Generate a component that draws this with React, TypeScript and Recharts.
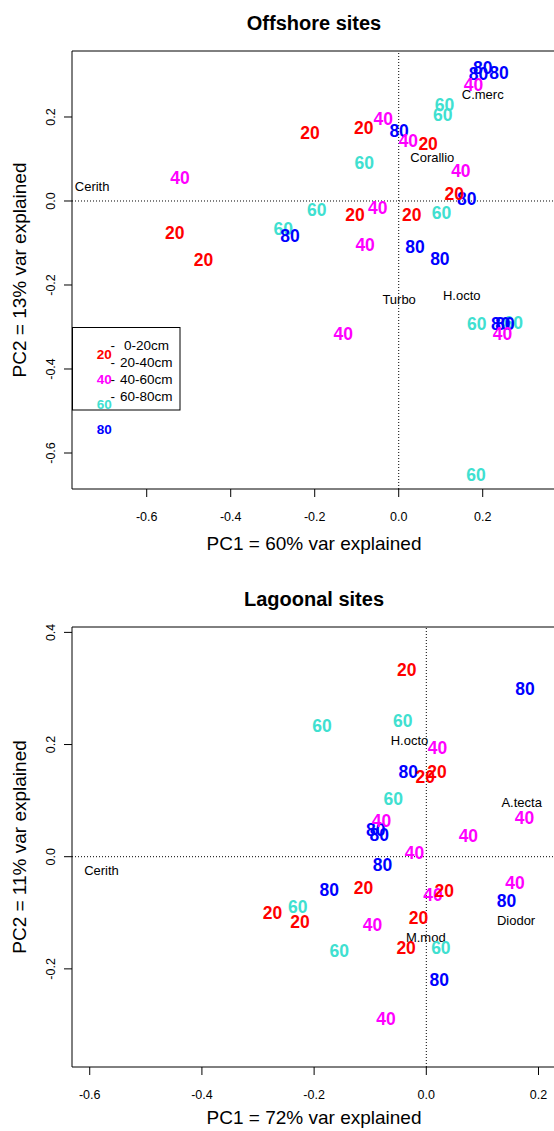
import { ScatterChart, Scatter, XAxis, YAxis, ReferenceLine, ReferenceArea } from 'recharts'

const FONT = '"Liberation Sans", Arial, Helvetica, sans-serif'

type Pt = [number, number]

// Offshore sites (PC1, PC2) by depth
const offshore20: Pt[] = [[-0.211, 0.162], [-0.083, 0.175], [0.070, 0.137], [0.132, 0.018], [-0.104, -0.032], [0.031, -0.033], [-0.533, -0.075], [-0.465, -0.140]]
const offshore40: Pt[] = [[-0.521, 0.055], [0.178, 0.276], [-0.037, 0.195], [0.023, 0.143], [0.148, 0.071], [-0.050, -0.016], [-0.080, -0.105], [-0.132, -0.315], [0.247, -0.317]]
const offshore60: Pt[] = [[0.109, 0.230], [0.105, 0.206], [-0.082, 0.092], [-0.195, -0.020], [-0.275, -0.067], [0.102, -0.027], [0.186, -0.293], [0.273, -0.290], [0.184, -0.652]]
const offshore80: Pt[] = [[0.200, 0.318], [0.190, 0.302], [0.239, 0.306], [0.001, 0.167], [0.162, 0.006], [-0.259, -0.083], [0.039, -0.109], [0.098, -0.138], [0.243, -0.293], [0.253, -0.293]]
const offshoreSpecies = ['Cerith', 'C.merc', 'Corallio', 'Turbo', 'H.octo']
const offshoreSpeciesPos: Pt[] = [[-0.730, 0.034], [0.200, 0.254], [0.080, 0.103], [0.001, -0.234], [0.150, -0.225]]

// Lagoonal sites
const lagoon20: Pt[] = [[-0.035, 0.333], [-0.002, 0.143], [0.019, 0.151], [-0.112, -0.056], [0.032, -0.061], [-0.014, -0.108], [-0.036, -0.162], [-0.274, -0.099], [-0.225, -0.116]]
const lagoon40: Pt[] = [[0.020, 0.194], [0.175, 0.070], [-0.080, 0.064], [0.075, 0.037], [-0.021, 0.008], [0.012, -0.067], [0.158, -0.046], [-0.096, -0.122], [-0.072, -0.289]]
const lagoon60: Pt[] = [[-0.186, 0.233], [-0.042, 0.243], [-0.059, 0.104], [0.026, -0.162], [-0.155, -0.168], [-0.229, -0.089]]
const lagoon80: Pt[] = [[0.176, 0.299], [-0.032, 0.152], [-0.090, 0.049], [-0.084, 0.039], [-0.078, -0.015], [-0.173, -0.058], [0.143, -0.079], [0.023, -0.219]]
const lagoonSpecies = ['Cerith', 'H.octo', 'A.tecta', 'Diodor', 'M.mod']
const lagoonSpeciesPos: Pt[] = [[-0.579, -0.025], [-0.030, 0.207], [0.170, 0.096], [0.160, -0.113], [-0.001, -0.144]]

const depthLabels = ['20', '40', '60', '80']
const depthColors = ['#FF0000', '#FF00FF', '#40E0D0', '#0000FF']
const legendLabels = ['0-20cm', '20-40cm', '40-60cm', '60-80cm']

const xTicks = [-0.6, -0.4, -0.2, 0, 0.2]
const offshoreYTicks = [-0.6, -0.4, -0.2, 0, 0.2]
const lagoonYTicks = [-0.2, 0, 0.2, 0.4]

const rows = (pts: Pt[], labels: string[] | string) =>
  pts.map(([x, y], i) => ({ x, y, label: Array.isArray(labels) ? labels[i] : labels }))

const numberMark = (color: string) => (props: any) => {
  const { cx, cy, payload } = props
  return (
    <text x={cx} y={cy + 6.3} textAnchor="middle" fill={color} fontSize={17.5} fontWeight="bold" fontFamily={FONT}>
      {payload.label}
    </text>
  )
}

const speciesMark = (props: any) => {
  const { cx, cy, payload } = props
  return (
    <text x={cx} y={cy + 4.6} textAnchor="middle" fill="#000" fontSize={13} fontFamily={FONT}>
      {payload.label}
    </text>
  )
}

const fmt = (v: number) => v.toFixed(1)

const XTick = (props: any) => (
  <text x={props.x} y={props.y + 23.5} textAnchor="middle" fill="#000" fontSize={12.5} fontFamily={FONT}>
    {fmt(props.payload.value)}
  </text>
)

const YTick = (props: any) => {
  const bx = props.x - 8.5
  return (
    <text x={bx} y={props.y} transform={`rotate(-90 ${bx} ${props.y})`} textAnchor="middle" fill="#000" fontSize={12.5} fontFamily={FONT}>
      {fmt(props.payload.value)}
    </text>
  )
}

interface PanelProps {
  top: number
  height: number
  xDomain: [number, number]
  yDomain: [number, number]
  yTicks: number[]
  series: Pt[][]
  speciesNames: string[]
  speciesPos: Pt[]
}

// draw order so that overlaps look like the original
const drawOrder = [2, 3, 1, 0]

function Panel({ top, height, xDomain, yDomain, yTicks, series, speciesNames, speciesPos }: PanelProps) {
  return (
    <div style={{ position: 'absolute', left: 0, top }}>
      <ScatterChart width={560} height={height} margin={{ top: 51, right: 4, bottom: 0, left: 0 }}>
        <XAxis
          type="number"
          dataKey="x"
          domain={xDomain}
          allowDataOverflow
          ticks={xTicks}
          interval={0}
          height={71}
          axisLine={false}
          tickLine={{ stroke: '#000' }}
          tickSize={8}
          tickMargin={0}
          tick={XTick}
        />
        <YAxis
          type="number"
          dataKey="y"
          domain={yDomain}
          allowDataOverflow
          ticks={yTicks}
          interval={0}
          width={72}
          axisLine={false}
          tickLine={{ stroke: '#000' }}
          tickSize={8}
          tickMargin={0}
          tick={YTick}
        />
        <ReferenceArea
          x1={xDomain[0]}
          x2={xDomain[1]}
          y1={yDomain[0]}
          y2={yDomain[1]}
          fill="none"
          fillOpacity={0}
          stroke="#000"
          strokeWidth={1}
          ifOverflow="visible"
        />
        <ReferenceLine x={0} stroke="#000" strokeDasharray="1 2" />
        <ReferenceLine y={0} stroke="#000" strokeDasharray="1 2" />
        <Scatter data={rows(speciesPos, speciesNames)} shape={speciesMark} isAnimationActive={false} />
        {drawOrder.map((i) => (
          <Scatter
            key={depthLabels[i]}
            data={rows(series[i], depthLabels[i])}
            shape={numberMark(depthColors[i])}
            isAnimationActive={false}
          />
        ))}
      </ScatterChart>
    </div>
  )
}

function Overlay() {
  const legendRowsY = [345.3, 362.3, 379, 395.7]
  const legendSymY = [354, 379, 404, 429.3]
  return (
    <svg width={554} height={1131} style={{ position: 'absolute', left: 0, top: 0, pointerEvents: 'none' }} fontFamily={FONT}>
      <text x={314} y={29.5} textAnchor="middle" fontSize={20} fontWeight="bold">Offshore sites</text>
      <text x={314} y={550} textAnchor="middle" fontSize={19}>PC1 = 60% var explained</text>
      <text x={26} y={270} transform="rotate(-90 26 270)" textAnchor="middle" fontSize={19}>PC2 = 13% var explained</text>

      <text x={314} y={606} textAnchor="middle" fontSize={20} fontWeight="bold">Lagoonal sites</text>
      <text x={314} y={1124} textAnchor="middle" fontSize={19}>PC1 = 72% var explained</text>
      <text x={26} y={847} transform="rotate(-90 26 847)" textAnchor="middle" fontSize={19}>PC2 = 11% var explained</text>

      {/* legend of the offshore panel */}
      <rect x={72.5} y={327.5} width={107.5} height={82.5} fill="none" stroke="#000" strokeWidth={1} />
      {legendLabels.map((l, i) => (
        <g key={l}>
          <text x={112.7} y={legendRowsY[i] + 4.8} textAnchor="middle" fontSize={13.5}>-</text>
          <text x={i === 0 ? 124 : 120} y={legendRowsY[i] + 4.8} fontSize={13.5}>{l}</text>
          <text x={104.3} y={legendSymY[i] + 4.8} textAnchor="middle" fontSize={13.5} fontWeight="bold" fill={depthColors[i]}>
            {depthLabels[i]}
          </text>
        </g>
      ))}
    </svg>
  )
}

export default function App() {
  return (
    <div style={{ position: 'absolute', left: 0, top: 0, width: 554, height: 1131, overflow: 'hidden', background: '#fff' }}>
      <Panel
        top={0}
        height={560}
        xDomain={[-0.7779, 0.3745]}
        yDomain={[-0.6857, 0.3571]}
        yTicks={offshoreYTicks}
        series={[offshore20, offshore40, offshore60, offshore80]}
        speciesNames={offshoreSpecies}
        speciesPos={offshoreSpeciesPos}
      />
      <Panel
        top={576}
        height={562}
        xDomain={[-0.6316, 0.2312]}
        yDomain={[-0.375, 0.4096]}
        yTicks={lagoonYTicks}
        series={[lagoon20, lagoon40, lagoon60, lagoon80]}
        speciesNames={lagoonSpecies}
        speciesPos={lagoonSpeciesPos}
      />
      <Overlay />
    </div>
  )
}
